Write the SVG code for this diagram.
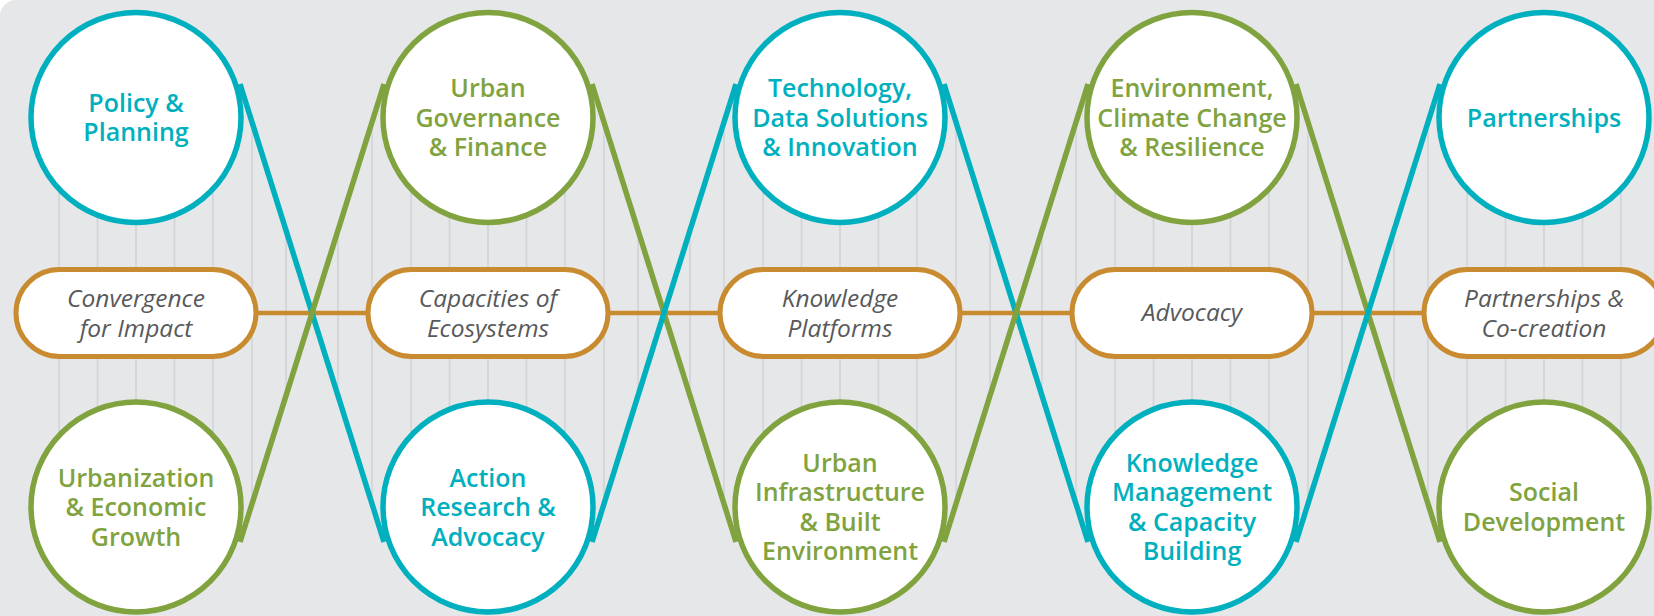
<svg xmlns="http://www.w3.org/2000/svg" width="1654" height="616" viewBox="0 0 1654 616">
<defs>
<style>
.bg{fill:#e6e7e8}
.wedge{fill:#e6e7e8;stroke:none}
.vl{stroke:#d2d4d6;stroke-width:1.6;fill:none}
.hl{stroke:#c98b2f;stroke-width:4.5;fill:none}
.dc{stroke:#00b0be;stroke-width:5.5;fill:none;stroke-linecap:butt}
.dg{stroke:#80a33f;stroke-width:5.5;fill:none;stroke-linecap:butt}
.cc{fill:#ffffff;stroke:#00b0be;stroke-width:5.5}
.cg{fill:#ffffff;stroke:#80a33f;stroke-width:5.5}
.pill{fill:#ffffff;stroke:#c98b2f;stroke-width:5}
.t{font-family:"Open Sans","Liberation Sans",sans-serif;font-weight:600;font-size:25px;text-anchor:middle}
.tc{fill:#00b0be}
.tg{fill:#80a33f}
.pt{font-family:"Open Sans","Liberation Sans",sans-serif;font-style:italic;font-size:24.5px;fill:#58595b;text-anchor:middle}
</style>
</defs>
<rect x="0" y="0" width="1654" height="616" fill="#ffffff"/>
<rect class="bg" x="0" y="0" width="1720" height="700" rx="16"/>

<g id="grid">
<path class="vl" d="M59 120V500M97.5 120V500M136 120V500M174.5 120V500M213 120V500M252 120V500M286 120V500
M338 120V500M372 120V500M411 120V500M449.5 120V500M488 120V500M526.5 120V500M565 120V500M604 120V500M638 120V500
M690 120V500M724 120V500M763 120V500M801.5 120V500M840 120V500M878.5 120V500M917 120V500M956 120V500M990 120V500
M1042 120V500M1076 120V500M1115 120V500M1153.5 120V500M1192 120V500M1230.5 120V500M1269 120V500M1308 120V500M1342 120V500
M1394 120V500M1428 120V500M1467 120V500M1505.5 120V500M1544 120V500M1582.5 120V500M1621 120V500"/>
<path class="wedge" d="M240 84L384 84L312 313ZM240 542L384 542L312 313Z
M592 84L736 84L664 313ZM592 542L736 542L664 313Z
M944 84L1088 84L1016 313ZM944 542L1088 542L1016 313Z
M1296 84L1440 84L1368 313ZM1296 542L1440 542L1368 313Z"/>
</g>

<g id="connectors">
<line class="hl" x1="136" y1="313" x2="1654" y2="313"/>
<line class="dc" x1="240" y1="84" x2="384" y2="542"/>
<line class="dg" x1="384" y1="84" x2="240" y2="542"/>
<line class="dg" x1="592" y1="84" x2="736" y2="542"/>
<line class="dc" x1="736" y1="84" x2="592" y2="542"/>
<line class="dc" x1="944" y1="84" x2="1088" y2="542"/>
<line class="dg" x1="1088" y1="84" x2="944" y2="542"/>
<line class="dg" x1="1296" y1="84" x2="1440" y2="542"/>
<line class="dc" x1="1440" y1="84" x2="1296" y2="542"/>
</g>

<g id="pill-convergence">
<rect class="pill" x="16" y="269.5" width="240" height="87" rx="43.5"/>
<text class="pt" x="136" y="307">Convergence</text>
<text class="pt" x="136" y="337">for Impact</text>
</g>
<g id="pill-capacities">
<rect class="pill" x="368" y="269.5" width="240" height="87" rx="43.5"/>
<text class="pt" x="488" y="307">Capacities of</text>
<text class="pt" x="488" y="337">Ecosystems</text>
</g>
<g id="pill-knowledge">
<rect class="pill" x="720" y="269.5" width="240" height="87" rx="43.5"/>
<text class="pt" x="840" y="307">Knowledge</text>
<text class="pt" x="840" y="337">Platforms</text>
</g>
<g id="pill-advocacy">
<rect class="pill" x="1072" y="269.5" width="240" height="87" rx="43.5"/>
<text class="pt" x="1192" y="321">Advocacy</text>
</g>
<g id="pill-partnerships">
<rect class="pill" x="1424" y="269.5" width="240" height="87" rx="43.5"/>
<text class="pt" x="1544" y="307">Partnerships &amp;</text>
<text class="pt" x="1544" y="337">Co-creation</text>
</g>

<g id="node-policy">
<circle class="cc" cx="136" cy="117.5" r="105"/>
<text class="t tc" x="136" y="111.75">Policy &amp;</text>
<text class="t tc" x="136" y="141.25">Planning</text>
</g>
<g id="node-governance">
<circle class="cg" cx="488" cy="117.5" r="105"/>
<text class="t tg" x="488" y="97">Urban</text>
<text class="t tg" x="488" y="126.5">Governance</text>
<text class="t tg" x="488" y="156">&amp; Finance</text>
</g>
<g id="node-technology">
<circle class="cc" cx="840" cy="117.5" r="105"/>
<text class="t tc" x="840" y="97">Technology,</text>
<text class="t tc" x="840" y="126.5">Data Solutions</text>
<text class="t tc" x="840" y="156">&amp; Innovation</text>
</g>
<g id="node-environment">
<circle class="cg" cx="1192" cy="117.5" r="105"/>
<text class="t tg" x="1192" y="97">Environment,</text>
<text class="t tg" x="1192" y="126.5">Climate Change</text>
<text class="t tg" x="1192" y="156">&amp; Resilience</text>
</g>
<g id="node-partnerships">
<circle class="cc" cx="1544" cy="117.5" r="105"/>
<text class="t tc" x="1544" y="126.5">Partnerships</text>
</g>

<g id="node-urbanization">
<circle class="cg" cx="136" cy="507" r="105"/>
<text class="t tg" x="136" y="486.5">Urbanization</text>
<text class="t tg" x="136" y="516">&amp; Economic</text>
<text class="t tg" x="136" y="545.5">Growth</text>
</g>
<g id="node-action">
<circle class="cc" cx="488" cy="507" r="105"/>
<text class="t tc" x="488" y="486.5">Action</text>
<text class="t tc" x="488" y="516">Research &amp;</text>
<text class="t tc" x="488" y="545.5">Advocacy</text>
</g>
<g id="node-infrastructure">
<circle class="cg" cx="840" cy="507" r="105"/>
<text class="t tg" x="840" y="471.75">Urban</text>
<text class="t tg" x="840" y="501.25">Infrastructure</text>
<text class="t tg" x="840" y="530.75">&amp; Built</text>
<text class="t tg" x="840" y="560.25">Environment</text>
</g>
<g id="node-knowledge">
<circle class="cc" cx="1192" cy="507" r="105"/>
<text class="t tc" x="1192" y="471.75">Knowledge</text>
<text class="t tc" x="1192" y="501.25">Management</text>
<text class="t tc" x="1192" y="530.75">&amp; Capacity</text>
<text class="t tc" x="1192" y="560.25">Building</text>
</g>
<g id="node-social">
<circle class="cg" cx="1544" cy="507" r="105"/>
<text class="t tg" x="1544" y="501.25">Social</text>
<text class="t tg" x="1544" y="530.75">Development</text>
</g>
</svg>
